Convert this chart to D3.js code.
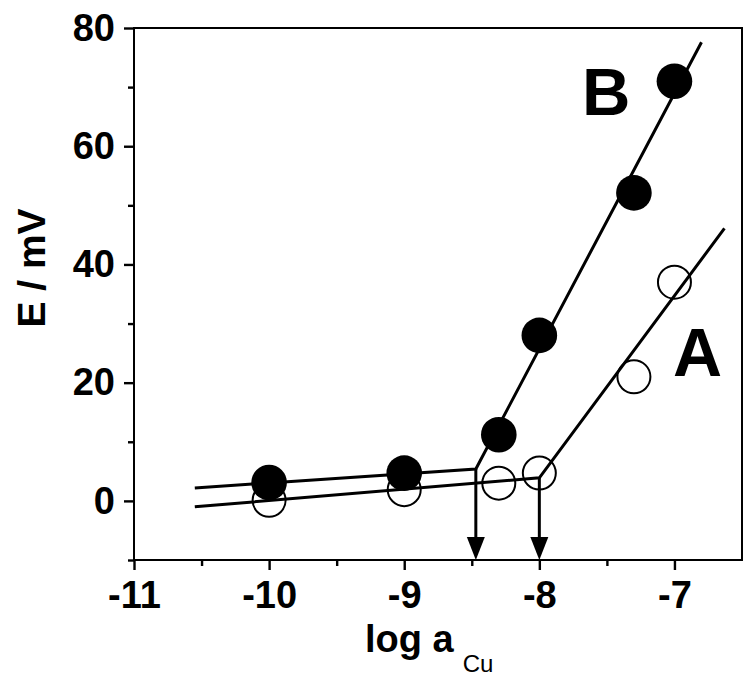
<!DOCTYPE html>
<html>
<head>
<meta charset="utf-8">
<script src="https://cdn.jsdelivr.net/npm/d3@7"></script>
<style>
  html, body { margin: 0; padding: 0; background: #fff; }
  svg { display: block; }
  text { font-family: Arial, "Liberation Sans", sans-serif; fill: #000; }
</style>
</head>
<body>
<svg id="chart" width="752" height="679"></svg>
<script>
// ---- data ----
const logA = [-10, -9, -8.3, -8, -7.3, -7];
const seriesB = [3.1, 4.7, 11.2, 28, 52.1, 71];   // filled circles
const seriesA = [0.1, 1.9, 3.0, 4.7, 21.0, 37.0]; // open circles
const fitBx = [-10.55, -8.47, -6.80];
const fitBy = [2.2, 5.4, 77.6];
const fitAx = [-10.55, -8.0, -6.63];
const fitAy = [-1.0, 3.9, 46.1];
const arrowX = [-8.47, -8.0];
const arrowY = [5.4, 3.9];
const xTicks = [-11, -10, -9, -8, -7];
const xMinor = [-10.5, -9.5, -8.5, -7.5];
const yTicks = [0, 20, 40, 60, 80];
const yMinor = [-10, 10, 30, 50, 70];

const svg = d3.select("#chart");
const L = 134, R = 742, T = 28, B = 560;
const x = d3.scaleLinear().domain([-11, -6.5]).range([L, R]);
const y = d3.scaleLinear().domain([-10, 80]).range([B, T]);

// frame
svg.append("rect").attr("x", L).attr("y", T).attr("width", R - L).attr("height", B - T)
  .attr("fill", "none").attr("stroke", "#000").attr("stroke-width", 2);

// axes
const fs = 38;
svg.append("g").attr("transform", `translate(0,${B})`)
  .call(d3.axisBottom(x).tickValues(xTicks).tickSize(10).tickPadding(11).tickFormat(d => d3.format("d")(d).replace("−", "-")));
svg.append("g").attr("transform", `translate(0,${B})`)
  .call(d3.axisBottom(x).tickValues(xMinor).tickSize(6).tickFormat(""));
svg.append("g").attr("transform", `translate(${L},0)`)
  .call(d3.axisLeft(y).tickValues(yTicks).tickSize(10).tickPadding(9).tickFormat(d => d3.format("d")(d).replace("−", "-")));
svg.append("g").attr("transform", `translate(${L},0)`)
  .call(d3.axisLeft(y).tickValues(yMinor).tickSize(6).tickFormat(""));
svg.selectAll(".domain").remove();
svg.selectAll(".tick line").attr("stroke", "#000").attr("stroke-width", 2.4);
svg.selectAll(".tick text").attr("font-size", fs).attr("font-weight", "bold")
  .attr("font-family", "Arial, 'Liberation Sans', sans-serif").attr("fill", "#000");

// axis titles
const xt = svg.append("text").attr("x", 365).attr("y", 652)
  .attr("font-size", 38).attr("font-weight", "bold");
xt.append("tspan").text("log a");
xt.append("tspan").attr("dx", 9).attr("dy", 20).attr("font-size", 24).attr("font-weight", "normal").text("Cu");

svg.append("text").attr("transform", "translate(45,268) rotate(-90)")
  .attr("text-anchor", "middle").attr("font-size", 39).attr("font-weight", "bold").text("E / mV");

// fit lines
const line = d3.line().x(d => x(d[0])).y(d => y(d[1]));
svg.append("path").datum(d3.zip(fitAx, fitAy)).attr("d", line)
  .attr("fill", "none").attr("stroke", "#000").attr("stroke-width", 3).attr("stroke-linejoin", "miter");
svg.append("path").datum(d3.zip(fitBx, fitBy)).attr("d", line)
  .attr("fill", "none").attr("stroke", "#000").attr("stroke-width", 3).attr("stroke-linejoin", "miter");

// arrows
arrowX.forEach((ax, i) => {
  const px = x(ax);
  svg.append("line").attr("x1", px).attr("x2", px).attr("y1", y(arrowY[i])).attr("y2", B - 20)
    .attr("stroke", "#000").attr("stroke-width", 3);
  svg.append("path").attr("d", `M${px - 9},${B - 23}L${px + 9},${B - 23}L${px},${B}Z`).attr("fill", "#000");
});

// open circles (A)
svg.append("g").selectAll("circle").data(d3.zip(logA, seriesA)).join("circle")
  .attr("cx", d => x(d[0])).attr("cy", d => y(d[1])).attr("r", 16.5)
  .attr("fill", "none").attr("stroke", "#000").attr("stroke-width", 2);
// filled circles (B)
svg.append("g").selectAll("circle").data(d3.zip(logA, seriesB)).join("circle")
  .attr("cx", d => x(d[0])).attr("cy", d => y(d[1])).attr("r", 17.8)
  .attr("fill", "#000");

// labels
svg.append("text").attr("x", 582).attr("y", 115).attr("font-size", 67).attr("font-weight", "bold").text("B");
svg.append("text").attr("x", 673).attr("y", 376).attr("font-size", 68).attr("font-weight", "bold").text("A");
</script>
</body>
</html>
